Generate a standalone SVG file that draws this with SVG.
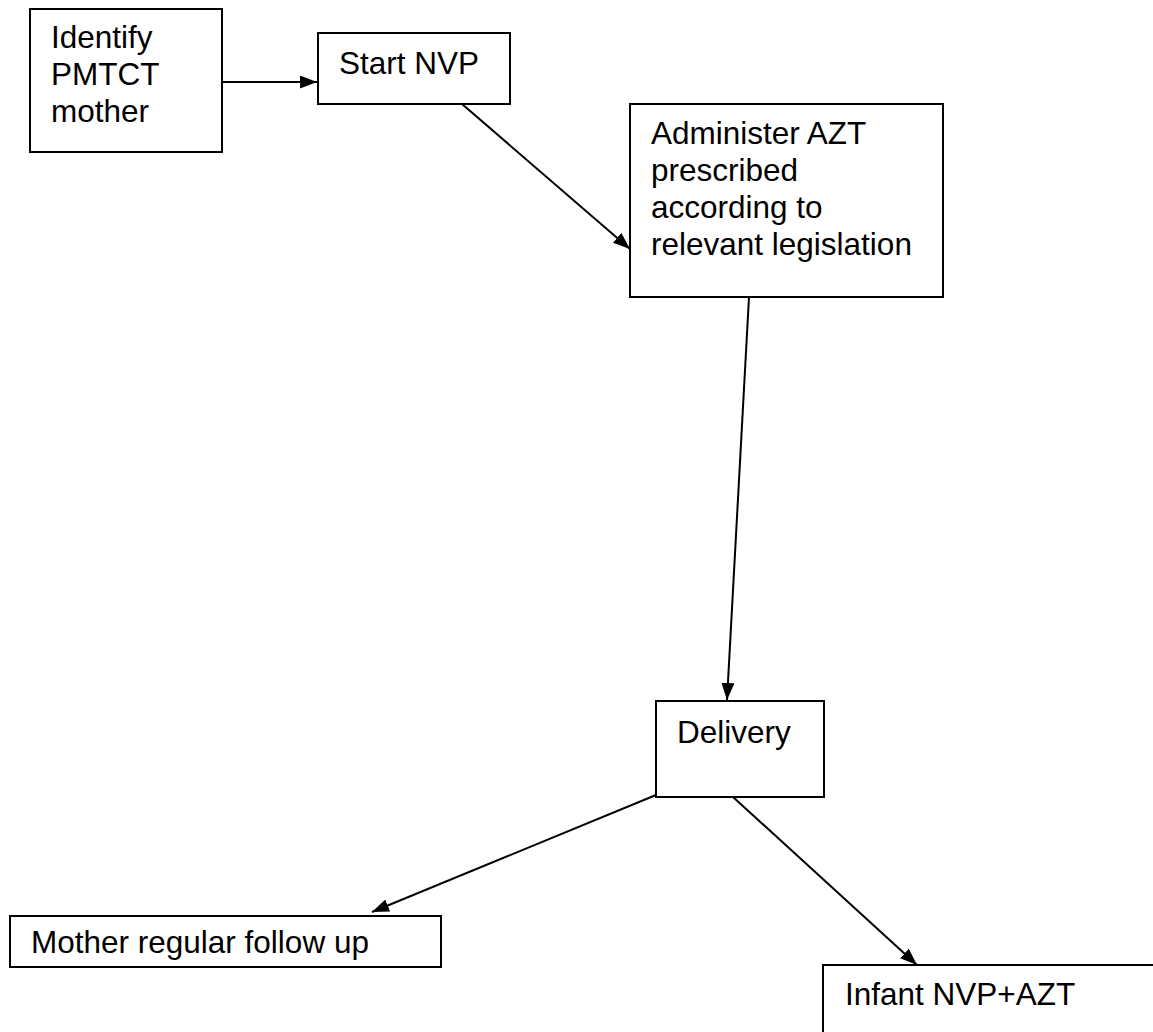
<svg xmlns="http://www.w3.org/2000/svg" width="1153" height="1032" viewBox="0 0 1153 1032">
  <style>
    .box { fill: #ffffff; stroke: #000000; stroke-width: 2; }
    .lbl { font-family: "Liberation Sans", Arial, sans-serif; font-size: 31.5px; fill: #000000; }
    .link { stroke: #000000; stroke-width: 2; fill: none; marker-end: url(#head); }
  </style>
  <defs>
    <marker id="head" viewBox="0 0 17 13" refX="17" refY="6.5" markerWidth="17" markerHeight="13" markerUnits="userSpaceOnUse" orient="auto">
      <path d="M0,0 L17,6.5 L0,13 Z" fill="#000000"/>
    </marker>
  </defs>
  <rect width="1153" height="1032" fill="#ffffff"/>

  <!-- arrows between the steps -->
  <g id="connectors">
    <line class="link" x1="222" y1="82" x2="317" y2="82"/>
    <line class="link" x1="462" y1="104" x2="630" y2="249"/>
    <line class="link" x1="749" y1="297" x2="727" y2="700"/>
    <line class="link" x1="656" y1="795" x2="372" y2="912"/>
    <line class="link" x1="733" y1="797" x2="917" y2="965"/>
  </g>

  <g id="identify">
    <rect class="box" x="30" y="9" width="192" height="143"/>
    <text class="lbl" x="51" y="48">Identify</text>
    <text class="lbl" x="51" y="85">PMTCT</text>
    <text class="lbl" x="51" y="122">mother</text>
  </g>

  <g id="start-nvp">
    <rect class="box" x="318" y="33" width="192" height="71"/>
    <text class="lbl" x="339" y="74">Start NVP</text>
  </g>

  <g id="administer">
    <rect class="box" x="630" y="104" width="313" height="193"/>
    <text class="lbl" x="651" y="144">Administer AZT</text>
    <text class="lbl" x="651" y="181">prescribed</text>
    <text class="lbl" x="651" y="218">according to</text>
    <text class="lbl" x="651" y="255">relevant legislation</text>
  </g>

  <g id="delivery">
    <rect class="box" x="656" y="701" width="168" height="96"/>
    <text class="lbl" x="677" y="743">Delivery</text>
  </g>

  <g id="mother-follow-up">
    <rect class="box" x="10" y="916" width="431" height="51"/>
    <text class="lbl" x="31" y="953">Mother regular follow up</text>
  </g>

  <!-- this box runs past the right and bottom edges -->
  <g id="infant">
    <rect class="box" x="823" y="965" width="360" height="100"/>
    <text class="lbl" x="845" y="1005">Infant NVP+AZT</text>
  </g>
</svg>
